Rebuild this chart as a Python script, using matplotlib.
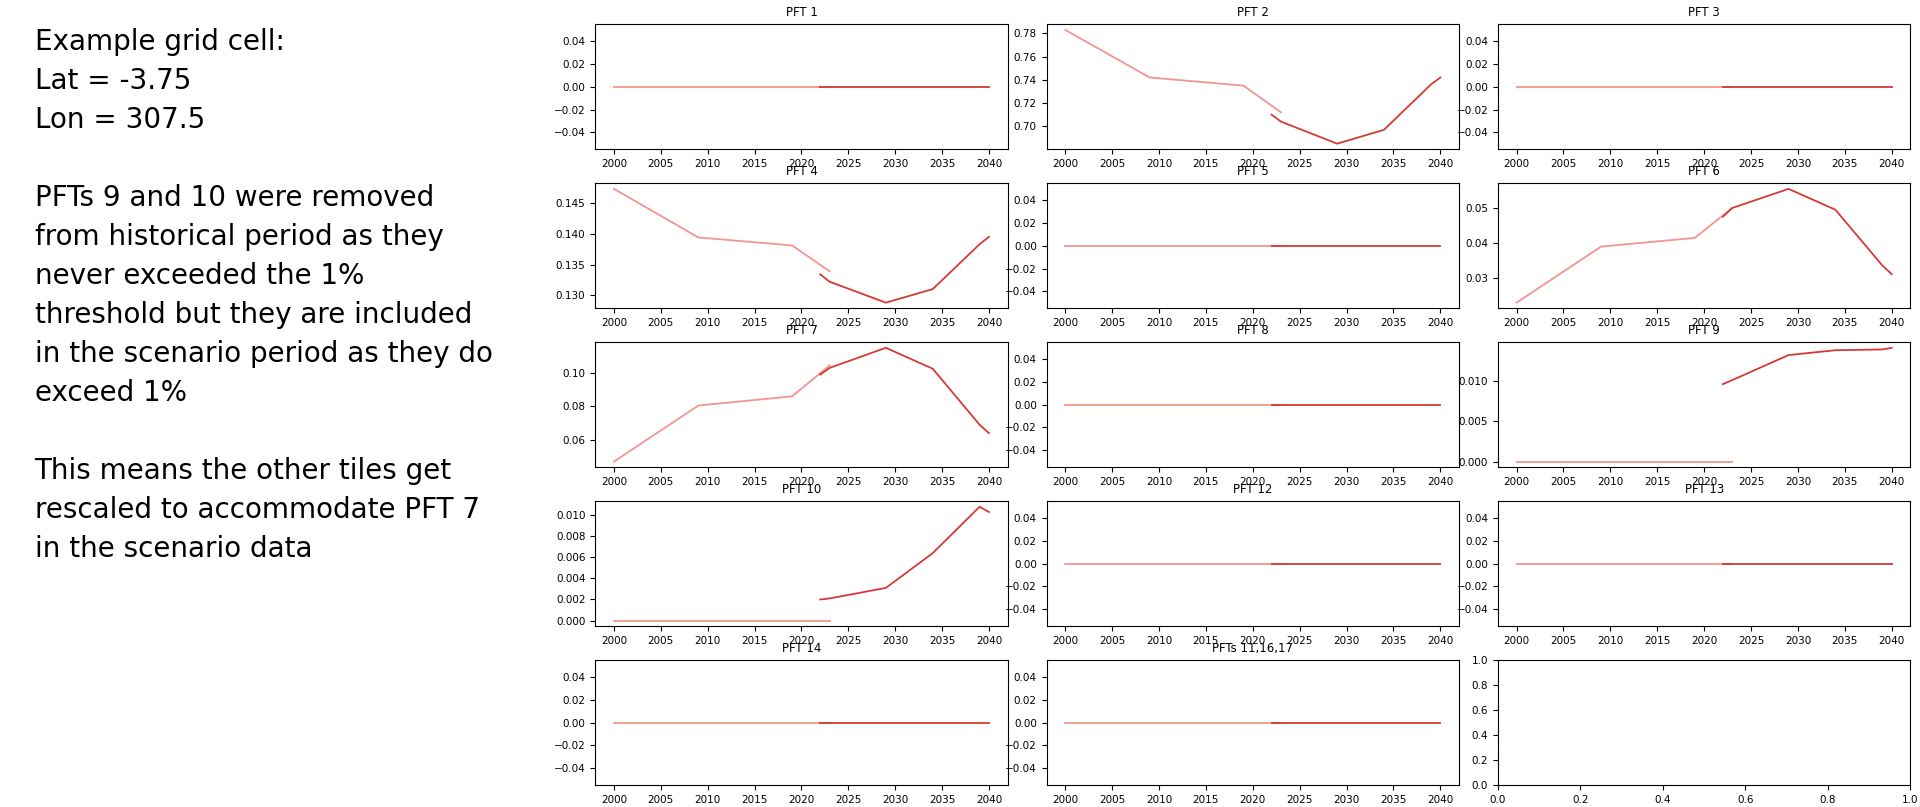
import numpy as np
import matplotlib.pyplot as plt

hist_years = [2000, 2009, 2019, 2023]
scen_years = [2022, 2023, 2029, 2034, 2039, 2040]

titles = ['PFT 1', 'PFT 2', 'PFT 3', 'PFT 4', 'PFT 5', 'PFT 6', 'PFT 7', 'PFT 8',
          'PFT 9', 'PFT 10', 'PFT 12', 'PFT 13', 'PFT 14', 'PFTs 11,16,17']

zeros_h = [0, 0, 0, 0]
zeros_s = [0, 0, 0, 0, 0, 0]
hist = {
    'PFT 2': [0.783, 0.742, 0.735, 0.712],
    'PFT 4': [0.1473, 0.1394, 0.1381, 0.1339],
    'PFT 6': [0.0228, 0.0389, 0.0414, 0.0500],
    'PFT 7': [0.047, 0.0805, 0.086, 0.1045],
}
scen = {
    'PFT 2': [0.710, 0.704, 0.685, 0.697, 0.736, 0.742],
    'PFT 4': [0.1334, 0.1322, 0.1288, 0.1310, 0.1383, 0.1395],
    'PFT 6': [0.0475, 0.0500, 0.0555, 0.0495, 0.0335, 0.0310],
    'PFT 7': [0.099, 0.103, 0.115, 0.1025, 0.069, 0.064],
    'PFT 9': [0.0096, 0.0101, 0.0132, 0.0138, 0.0139, 0.0141],
    'PFT 10': [0.0020, 0.0021, 0.0031, 0.0064, 0.0108, 0.0103],
}

hist_col = '#f4948e'
scen_col = '#d43a36'

fig, axes = plt.subplots(5, 3, figsize=(19.2, 8.07), dpi=100)
fig.subplots_adjust(left=0.31, right=0.995, top=0.97, bottom=0.027, wspace=0.094, hspace=0.27)

for i, ax in enumerate(axes.flat):
    ax.tick_params(labelsize=7.5)
    if i >= len(titles):
        continue
    t = titles[i]
    ax.plot(hist_years, hist.get(t, zeros_h), color=hist_col, lw=1.3)
    ax.plot(scen_years, scen.get(t, zeros_s), color=scen_col, lw=1.3)
    ax.set_title(t, fontsize=8.5)
    ax.set_xticks(range(2000, 2041, 5))

txt = ("Example grid cell:\nLat = -3.75\nLon = 307.5\n\n"
       "PFTs 9 and 10 were removed\nfrom historical period as they\n"
       "never exceeded the 1%\nthreshold but they are included\n"
       "in the scenario period as they do\nexceed 1%\n\n"
       "This means the other tiles get\nrescaled to accommodate PFT 7\nin the scenario data")
fig.text(0.018, 0.965, txt, fontsize=20, va='top', ha='left', linespacing=1.5)

fig.savefig('out.png')
